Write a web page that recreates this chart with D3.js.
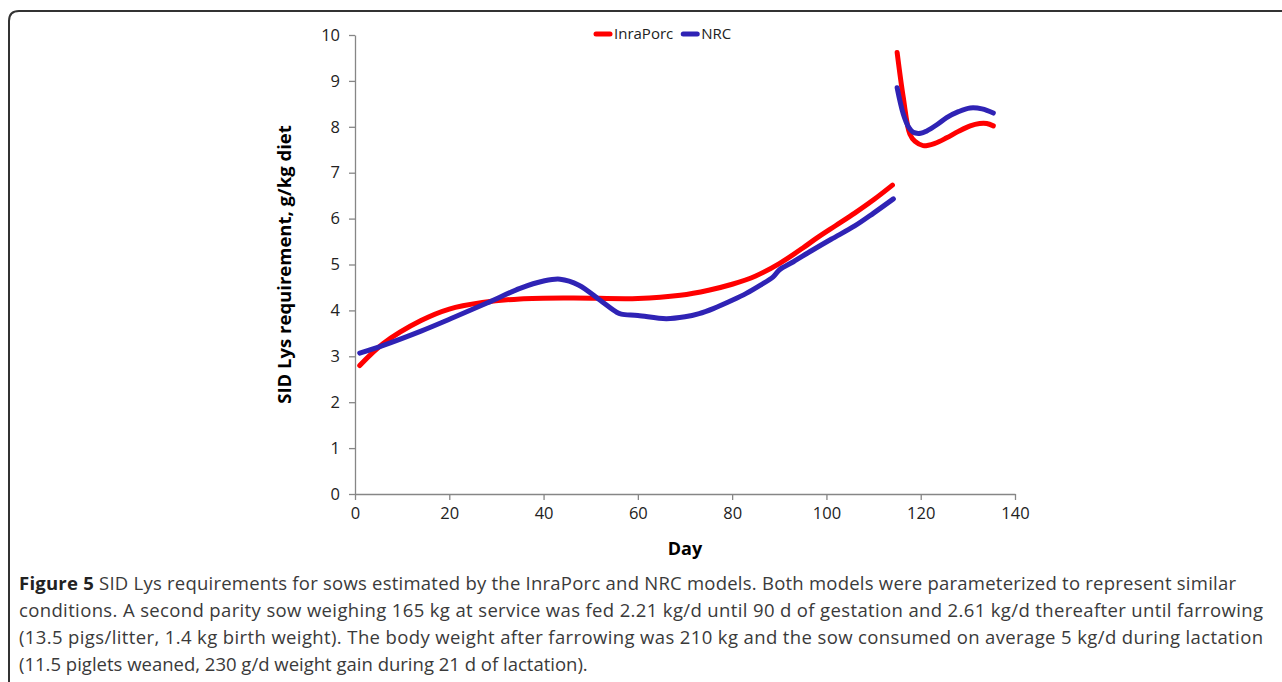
<!DOCTYPE html>
<html>
<head>
<meta charset="utf-8">
<script src="https://cdn.jsdelivr.net/npm/d3@7"></script>
<style>
  html, body { margin: 0; padding: 0; background: #fff; }
  #content { width: 1282px; height: 682px; }
  .axis text { font-family: "Open Sans", sans-serif; font-size: 16.5px; fill: #222; }
  .axis path, .axis line { stroke: #868686; stroke-width: 1.3; }
</style>
</head>
<body>
<div id="content"></div>
<script>
// InraPorc, gestation and lactation (day, g/kg)
var inraGestDays = [1, 6, 14, 20, 27, 35, 46, 60, 69, 75, 80, 85, 90, 95, 98, 102, 106, 110, 114];
var inraGest = [2.8, 3.28, 3.78, 4.03, 4.17, 4.25, 4.27, 4.26, 4.33, 4.44, 4.57, 4.75, 5.02, 5.36, 5.58, 5.85, 6.12, 6.41, 6.73];
var inraLactDays = [115, 116.3, 117.7, 118.8, 120.5, 123, 125.5, 128, 130.5, 132.5, 134, 135.4];
var inraLact = [9.62, 8.64, 7.84, 7.68, 7.59, 7.64, 7.76, 7.9, 8.02, 8.07, 8.07, 8.02];

// NRC
var nrcGestDays = [1, 6, 14, 21, 28, 35, 40, 43.5, 47.5, 52, 55.5, 56.5, 60, 66, 70, 73, 76, 80, 83, 86, 88.7, 90, 93, 97, 101, 106, 110, 114.2];
var nrcGest = [3.07, 3.24, 3.55, 3.85, 4.16, 4.48, 4.64, 4.68, 4.55, 4.22, 3.96, 3.92, 3.89, 3.82, 3.86, 3.93, 4.04, 4.22, 4.37, 4.55, 4.73, 4.88, 5.06, 5.31, 5.55, 5.84, 6.12, 6.43];
var nrcLactDays = [115, 116.3, 117.5, 118.4, 120, 121.3, 123.5, 125.5, 128, 130.5, 133, 135.4];
var nrcLact = [8.85, 8.28, 7.98, 7.88, 7.86, 7.91, 8.05, 8.2, 8.33, 8.41, 8.39, 8.3];

var xTicks = [0, 20, 40, 60, 80, 100, 120, 140];
var yTicks = [0, 1, 2, 3, 4, 5, 6, 7, 8, 9, 10];
var seriesNames = ["InraPorc", "NRC"];
var seriesColors = ["#ff0000", "#2f23b5"];

var captionLines = [
  ["Figure 5", " SID Lys requirements for sows estimated by the InraPorc and NRC models. Both models were parameterized to represent similar"],
  ["", "conditions. A second parity sow weighing 165 kg at service was fed 2.21 kg/d until 90 d of gestation and 2.61 kg/d thereafter until farrowing"],
  ["", "(13.5 pigs/litter, 1.4 kg birth weight). The body weight after farrowing was 210 kg and the sow consumed on average 5 kg/d during lactation"],
  ["", "(11.5 piglets weaned, 230 g/d weight gain during 21 d of lactation)."]
];
// right edge of each full caption line in the reference
var captionEnds = [1236, 1263, 1263, null];

(function(d3) {
    var width = 1282, height = 682;
    var margin = {top: 35, right: 267, bottom: 188, left: 355};

    var svg = d3.select("#content").append("svg")
        .attr("viewBox", [0, 0, width, height])
        .attr("width", width).attr("height", height);

    // figure frame (open on the right and bottom)
    svg.append("path")
        .attr("d", "M9,690 L9,21 Q9,11 19,11 L1290,11")
        .attr("fill", "none")
        .attr("stroke", "#333")
        .attr("stroke-width", 2);

    var x = d3.scaleLinear().domain([0, 140]).range([margin.left, width - margin.right]);
    var y = d3.scaleLinear().domain([0, 10]).range([height - margin.bottom, margin.top]);

    svg.append("g")
        .attr("class", "axis xaxis")
        .attr("transform", "translate(0," + y(0) + ")")
        .call(d3.axisBottom(x).tickValues(xTicks).tickSize(6).tickPadding(7).tickSizeOuter(0))
        .call(function(g) { g.selectAll("text").attr("dy", "0.71em"); });

    svg.append("g")
        .attr("class", "axis yaxis")
        .attr("transform", "translate(" + x(0) + ",0)")
        .call(d3.axisLeft(y).tickValues(yTicks).tickSize(6).tickPadding(9).tickSizeOuter(0));

    svg.append("text")
        .attr("x", x(70)).attr("y", y(0) + 61)
        .attr("text-anchor", "middle")
        .style("font-family", "'Open Sans', sans-serif")
        .style("font-size", "18px").style("font-weight", "bold")
        .text("Day");

    svg.append("text")
        .attr("transform", "translate(" + 291 + "," + y(5) + ") rotate(-90)")
        .attr("text-anchor", "middle")
        .style("font-family", "'Open Sans', sans-serif")
        .style("font-size", "18.5px").style("font-weight", "bold")
        .text("SID Lys requirement, g/kg diet");

    var line = d3.line()
        .x(function(d) { return x(d[0]); })
        .y(function(d) { return y(d[1]); })
        .curve(d3.curveCatmullRom.alpha(0.5));

    function drawLine(days, values, stroke) {
        svg.append("path")
            .datum(d3.zip(days, values))
            .attr("fill", "none")
            .attr("stroke", stroke)
            .attr("stroke-width", 5)
            .attr("stroke-linecap", "round")
            .attr("stroke-linejoin", "round")
            .attr("d", line);
    }
    drawLine(inraGestDays, inraGest, seriesColors[0]);
    drawLine(inraLactDays, inraLact, seriesColors[0]);
    drawLine(nrcGestDays, nrcGest, seriesColors[1]);
    drawLine(nrcLactDays, nrcLact, seriesColors[1]);

    // legend
    var legend = svg.append("g").attr("transform", "translate(596,34)");
    var lx = 0;
    seriesNames.forEach(function(name, i) {
        legend.append("line")
            .attr("x1", lx).attr("x2", lx + 14)
            .attr("y1", 0).attr("y2", 0)
            .attr("stroke", seriesColors[i]).attr("stroke-width", 5)
            .attr("stroke-linecap", "round");
        var t = legend.append("text")
            .attr("x", lx + 18).attr("y", 0).attr("dy", "0.35em")
            .style("font-family", "'Open Sans', sans-serif")
            .style("font-size", "15px").style("fill", "#222")
            .text(name);
        lx += 18 + t.node().getComputedTextLength() + 10;
    });

    // caption
    var cap = svg.append("g")
        .style("font-family", "'Open Sans', sans-serif")
        .style("font-size", "18.5px").style("fill", "#3a3a3a");
    captionLines.forEach(function(l, i) {
        var t = cap.append("text").attr("x", 19).attr("y", 590 + i * 27);
        if (l[0]) t.append("tspan").style("font-weight", "bold").style("fill", "#222").text(l[0]);
        t.append("tspan").text(l[1]);
        if (captionEnds[i]) {
            t.attr("textLength", captionEnds[i] - 19).attr("lengthAdjust", "spacing");
        }
    });

})(d3);
</script>
</body>
</html>
